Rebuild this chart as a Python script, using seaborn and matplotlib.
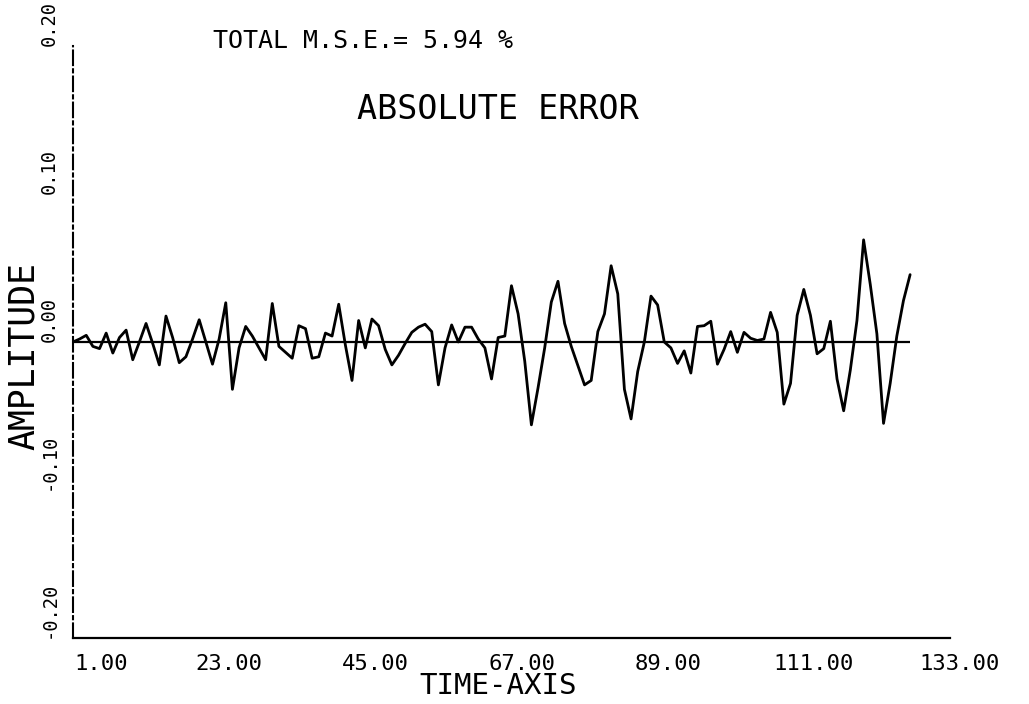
import matplotlib
matplotlib.use("Agg")
import matplotlib.pyplot as plt
import matplotlib.transforms as mtransforms
import pandas as pd
import seaborn as sns

# Sample index along the time axis
time_axis = list(range(1, 128))

# Absolute error of the reconstruction at each sample
abs_error = [
    0.000, 0.002, 0.0045, -0.003, -0.0045, 0.006, -0.0075, 0.003, 0.008, -0.012,
    0.000, 0.0125, -0.001, -0.0155, 0.0175, 0.003, -0.014, -0.010, 0.002, 0.015,
    0.000, -0.015, 0.002, 0.0265, -0.032, -0.004, 0.0105, 0.004, -0.004, -0.012,
    0.026, -0.003, -0.007, -0.011, 0.011, 0.009, -0.011, -0.010, 0.006, 0.004,
    0.0255, -0.002, -0.026, 0.0145, -0.004, 0.0155, 0.011, -0.005, -0.0155, -0.009,
    -0.001, 0.0065, 0.010, 0.012, 0.007, -0.029, -0.004, 0.0115, 0.000, 0.010,
    0.010, 0.002, -0.004, -0.025, 0.003, 0.004, 0.038, 0.019, -0.013, -0.056,
    -0.031, -0.004, 0.027, 0.041, 0.0125, -0.003, -0.016, -0.029, -0.026, 0.007,
    0.019, 0.0515, 0.0325, -0.032, -0.052, -0.020, 0.000, 0.031, 0.025, 0.000,
    -0.004, -0.0145, -0.006, -0.021, 0.0105, 0.011, 0.014, -0.015, -0.005, 0.007,
    -0.007, 0.0065, 0.0025, 0.001, 0.002, 0.020, 0.0065, -0.042, -0.028, 0.018,
    0.0355, 0.018, -0.008, -0.0045, 0.014, -0.025, -0.0465, -0.019, 0.0145, 0.069,
    0.039, 0.0055, -0.055, -0.028, 0.004, 0.028, 0.0455,
]

x_ticks = [1, 23, 45, 67, 89, 111, 133]
x_tick_labels = ["1.00", "23.00", "45.00", "67.00", "89.00", "111.00", "133.00"]
y_ticks = [-0.20, -0.10, 0.00, 0.10, 0.20]
y_tick_labels = ["-0.20", "-0.10", "0.00", "0.10", "0.20"]

title_text = "ABSOLUTE ERROR"
mse_text = "TOTAL M.S.E.= 5.94 %"
x_label = "TIME-AXIS"
y_label = "AMPLITUDE"

sns.set_theme(style="white")
plt.rcParams["font.family"] = ["DejaVu Sans Mono", "DejaVu Sans"]
plt.rcParams["axes.edgecolor"] = "black"

df = pd.DataFrame({"time": time_axis, "error": abs_error})

fig = plt.figure(figsize=(10.29, 7.04), dpi=100, facecolor="white")
ax = fig.add_axes([0.0709, 0.0938, 0.8523, 0.8409])

# Zero reference line across the sampled range
ax.hlines(0.0, time_axis[0], time_axis[-1], color="black", linewidth=1.6, zorder=2)

sns.lineplot(data=df, x="time", y="error", ax=ax, color="black",
             linewidth=2.0, zorder=3)

ax.set_xlim(1, 133)
ax.set_ylim(-0.20, 0.20)

ax.set_xticks(x_ticks, labels=x_tick_labels, fontsize=16)
ax.set_yticks(y_ticks, labels=y_tick_labels, fontsize=13.5,
              rotation=90, va="bottom")

for side in ("top", "right"):
    ax.spines[side].set_visible(False)
ax.spines["bottom"].set_linewidth(1.6)
ax.spines["left"].set_linewidth(1.5)
ax.spines["left"].set_linestyle((0, (7, 2, 1.5, 2)))

ax.tick_params(axis="x", direction="inout", length=9, width=1.2,
               color="black", pad=7, labelcolor="black")
ax.tick_params(axis="y", direction="out", length=6, width=1.2,
               color="black", pad=4, labelcolor="black")

# Plotter-style labels sit slightly right of their tick marks
shift = mtransforms.ScaledTranslation(10 / 100, 0, fig.dpi_scale_trans)
first_shift = mtransforms.ScaledTranslation(28 / 100, 0, fig.dpi_scale_trans)
for i, lab in enumerate(ax.get_xticklabels()):
    lab.set_transform(lab.get_transform() + (first_shift if i == 0 else shift))

ax.set_xlabel(x_label, fontsize=21, color="black", va="center")
ax.xaxis.set_label_coords(0.485, -0.081)
ax.set_ylabel(y_label, fontsize=25, color="black", va="center")
ax.yaxis.set_label_coords(-0.056, 0.476)

fig.text(213 / 1029, 1 - 40.5 / 704, mse_text, fontsize=18, color="black",
         ha="left", va="center")
fig.text(498 / 1029, 1 - 109.5 / 704, title_text, fontsize=24, color="black",
         ha="center", va="center")

fig.savefig("out.png", dpi=100, facecolor="white")
